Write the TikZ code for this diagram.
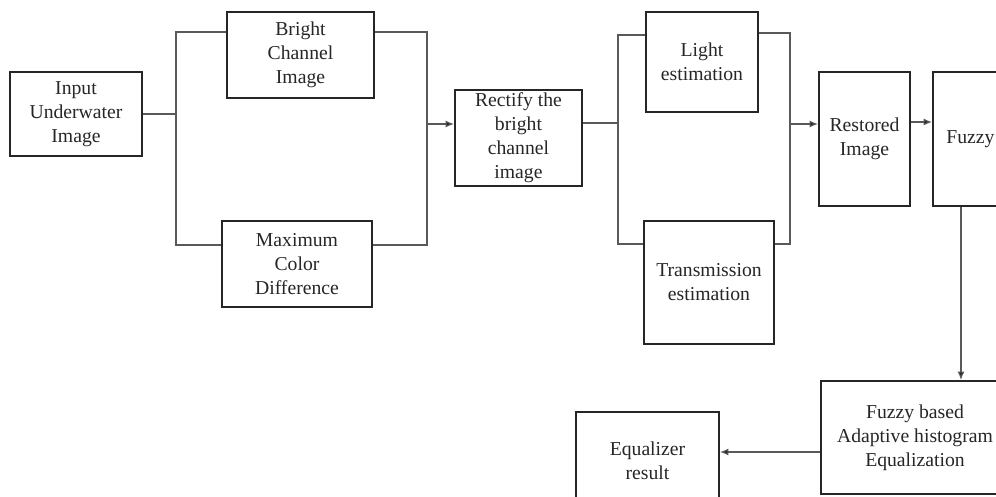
\documentclass[tikz,border=0pt]{standalone}
\usepackage{fontspec}
\setmainfont{Liberation Serif}
\usetikzlibrary{calc,arrows.meta}

\begin{document}
\begin{tikzpicture}[x=0.025cm,y=-0.025cm,
box/.style={draw=black!85,line width=1.4pt,rectangle,inner sep=1pt,align=center,font=\fontsize{14}{17}\selectfont,text=black!85},
link/.style={draw=black!65,line width=0.8pt},
arr/.style={link,-{Latex[length=6pt,width=5pt,fill=black!85]}}]
	\useasboundingbox (0,0) rectangle (996,497);
	\clip (0,0) rectangle (996,497);

	\node[box,minimum width=3.3cm,minimum height=2.1cm] at (76,114) (in) {Input\\Underwater\\Image};
	\node[box,minimum width=3.675cm,minimum height=2.15cm] at (300.5,55) (bci) {Bright\\Channel\\Image};
	\node[box,minimum width=3.75cm,minimum height=2.15cm] at (297,264) (mcd) {Maximum\\Color\\Difference};
	\node[box,minimum width=3.175cm,minimum height=2.4cm] at (518.5,138) (rect) {Rectify the\\bright\\channel\\image};
	\node[box,minimum width=2.8cm,minimum height=2.5cm] at (702,62) (light) {Light\\estimation};
	\node[box,minimum width=3.25cm,minimum height=3.075cm] at (709,282.5) (trans) {Transmission\\estimation};
	\node[box,minimum width=2.275cm,minimum height=3.35cm] at (864.5,139) (rest) {Restored\\Image};
	\node[box,minimum width=1.875cm,minimum height=3.35cm] at (970.5,139) (fuzzy) {Fuzzy};
	\node[box,minimum width=4.7cm,minimum height=2.825cm] at (915,437.5) (fahe) {Fuzzy based\\Adaptive histogram\\Equalization};
	\node[box,minimum width=3.575cm,minimum height=2.45cm] at (647.5,461) (eq) {Equalizer\\result};

	\coordinate (p1) at (176,32);
	\coordinate (p2) at (176,245);
	\coordinate (p3) at (427,32);
	\coordinate (p4) at (427,245);
	\coordinate (p5) at (618,35);
	\coordinate (p6) at (618,244);
	\coordinate (p7) at (790,33);
	\coordinate (p8) at (790,244);
	\coordinate (j1) at (427,124);
	\coordinate (j2) at (618,123);
	\coordinate (j3) at (790,124);

	\draw[link] (in.east) -- (in.east -| p1);
	\draw[link] (bci.west |- p1) -- (p1) -- (p2) -- (mcd.west |- p2);
	\draw[link] (bci.east |- p3) -- (p3) -- (p4) -- (mcd.east |- p4);
	\draw[arr] (j1) -- (j1 -| rect.west);
	\draw[link] (j2 -| rect.east) -- (j2);
	\draw[link] (light.west |- p5) -- (p5) -- (p6) -- (trans.west |- p6);
	\draw[link] (light.east |- p7) -- (p7) -- (p8) -- (trans.east |- p8);
	\draw[arr] (j3) -- (j3 -| rest.west);
	\draw[arr] (rest.east |- 0,122) -- (fuzzy.west |- 0,122);
	\draw[arr] (fuzzy.south -| 961,0) -- (fahe.north -| 961,0);
	\draw[arr] (fahe.west |- 0,452) -- (eq.east |- 0,452);
\end{tikzpicture}
\end{document}
